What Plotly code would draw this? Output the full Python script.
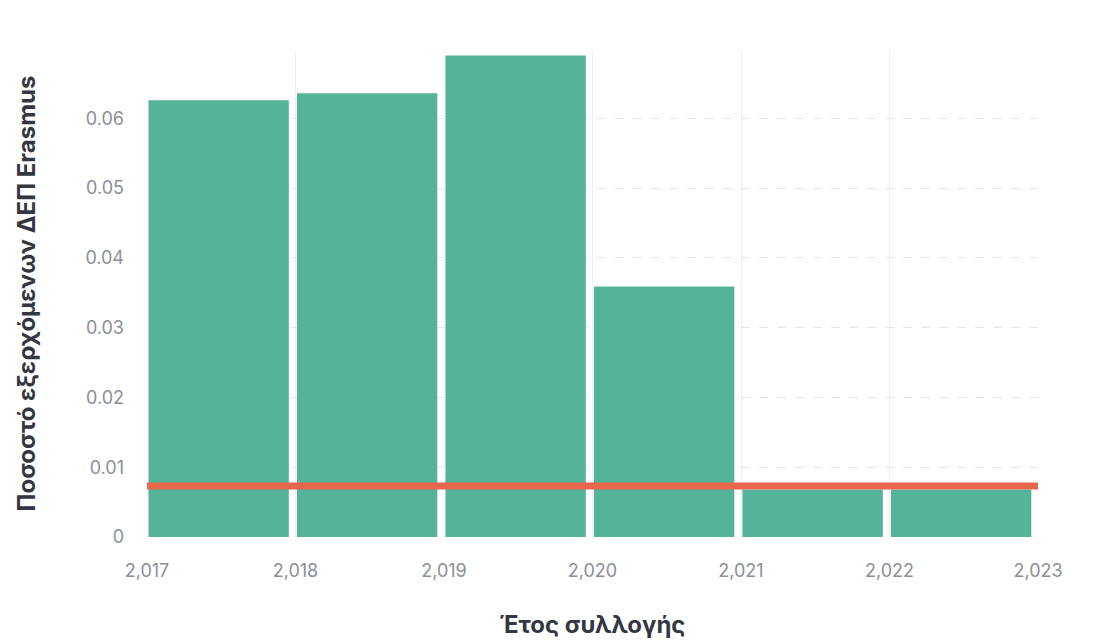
import plotly.graph_objects as go

years = [2017, 2018, 2019, 2020, 2021, 2022]
share = [0.0626, 0.0636, 0.0690, 0.0359, 0.0068, 0.0068]
ref_value = 0.0073
x_range = [2017, 2023]
y_ticks = [0, 0.01, 0.02, 0.03, 0.04, 0.05, 0.06]
y_tick_text = ["0", "0.01", "0.02", "0.03", "0.04", "0.05", "0.06"]

fig = go.Figure()
fig.add_trace(go.Bar(
    x=years, y=share, offset=0.01, width=0.945,
    marker=dict(color="#54B399", line=dict(width=0)),
    showlegend=False,
))
fig.add_trace(go.Scatter(
    x=x_range, y=[ref_value, ref_value], mode="lines",
    line=dict(color="#E7664C", width=7), showlegend=False,
))

fig.update_layout(
    width=1094, height=643,
    margin=dict(l=139, r=64, t=42, b=114),
    paper_bgcolor="white", plot_bgcolor="white",
    font=dict(family="Inter, Roboto, sans-serif", color="#69707D"),
)
fig.update_xaxes(
    range=x_range, tickmode="linear", tick0=2017, dtick=1, tickformat=",d",
    showgrid=True, gridcolor="#EEF0F3", gridwidth=1, zeroline=False,
    showline=False, ticks="", ticklabelstandoff=21, automargin=False,
    tickfont=dict(size=18, color="#8A8F99"),
    title=dict(text="<b>Έτος συλλογής</b>", font=dict(size=24, color="#343741"), standoff=36),
)
fig.update_yaxes(
    range=[0, 0.0698], tickvals=y_ticks, ticktext=y_tick_text,
    showgrid=True, gridcolor="#E3E5E8", griddash="dash", gridwidth=1,
    zeroline=False, showline=False, ticks="", ticklabelstandoff=22, automargin=False,
    tickfont=dict(size=18, color="#8A8F99"),
    title=dict(text="<b>Ποσοστό εξερχόμενων ΔΕΠ Erasmus</b>", font=dict(size=24, color="#343741"), standoff=42),
)

fig.write_html("out.html")
